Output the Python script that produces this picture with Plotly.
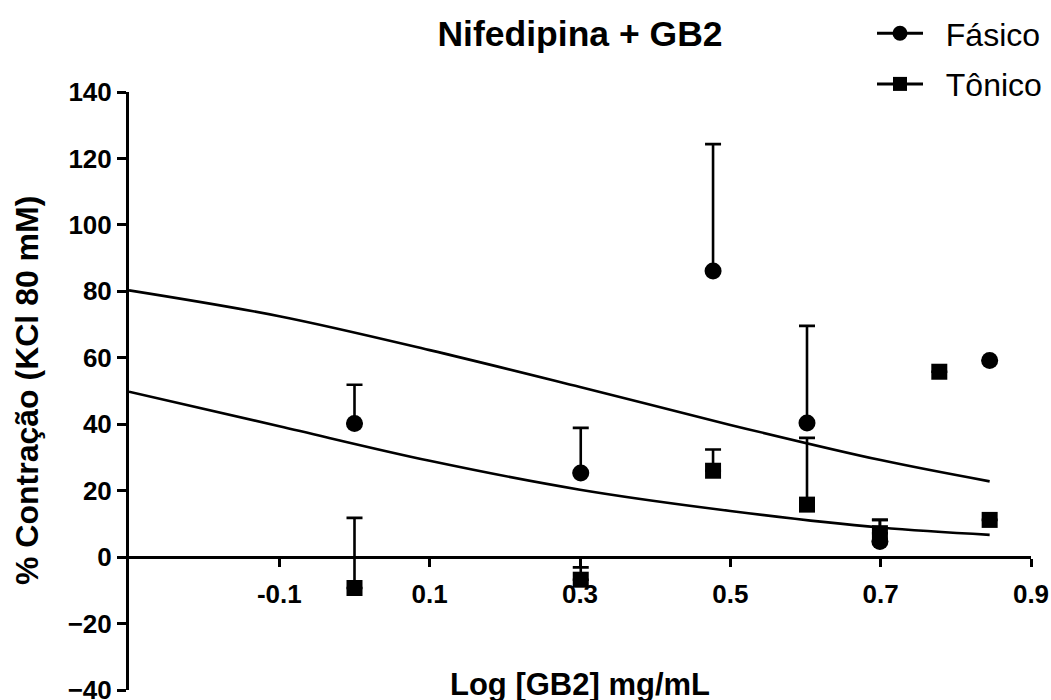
import plotly.graph_objects as go

# ---- data ----
log_conc = [0.0, 0.301, 0.477, 0.602, 0.699, 0.778, 0.845]
fasico_mean = [40.2, 25.3, 86.1, 40.4, 4.7, None, 59.2]
fasico_err = [11.7, 13.6, 38.2, 29.2, 6.5, None, None]
tonico_mean = [-9.3, -6.8, 26.0, 15.8, 7.2, 55.8, 11.2]
tonico_err = [21.1, 3.7, 6.4, 20.1, 4.0, None, None]

fit_x = [-0.3, -0.1, 0.1, 0.3, 0.5, 0.7, 0.845]
fit_fasico = [80.3, 72.5, 62.3, 51.2, 39.8, 29.2, 22.8]
fit_tonico = [49.8, 39.4, 29.0, 20.3, 13.9, 8.9, 6.7]

x_ticks = [-0.1, 0.1, 0.3, 0.5, 0.7, 0.9]
y_ticks = [-40, -20, 0, 20, 40, 60, 80, 100, 120, 140]

FONT = "Arial, Liberation Sans, sans-serif"
BLACK = "#000000"

fig = go.Figure()

# fitted curves
for fy in (fit_fasico, fit_tonico):
    fig.add_trace(go.Scatter(x=fit_x, y=fy, mode="lines",
                             line=dict(color=BLACK, width=2.6, shape="spline", smoothing=1.0),
                             showlegend=False, hoverinfo="skip"))

# data points with upward error bars
fig.add_trace(go.Scatter(
    x=log_conc, y=fasico_mean, mode="markers", showlegend=False,
    marker=dict(symbol="circle", size=17, color=BLACK),
    error_y=dict(type="data", array=fasico_err, symmetric=False,
                 arrayminus=[0] * len(fasico_err), color=BLACK, thickness=2.6, width=8)))
fig.add_trace(go.Scatter(
    x=log_conc, y=tonico_mean, mode="markers", showlegend=False,
    marker=dict(symbol="square", size=16, color=BLACK),
    error_y=dict(type="data", array=tonico_err, symmetric=False,
                 arrayminus=[0] * len(tonico_err), color=BLACK, thickness=2.6, width=8)))

# legend entries
fig.add_trace(go.Scatter(x=[None], y=[None], mode="lines+markers", name="\u00a0\u00a0Fásico",
                         line=dict(color=BLACK, width=3), legendgroup="a",
                         marker=dict(symbol="circle", size=15, color=BLACK)))
fig.add_trace(go.Scatter(x=[None], y=[None], mode="lines+markers", name="\u00a0\u00a0Tônico",
                         line=dict(color=BLACK, width=3), legendgroup="b",
                         marker=dict(symbol="square", size=14, color=BLACK)))

fig.update_layout(
    width=1051, height=700,
    margin=dict(l=129, r=20, t=92, b=10, autoexpand=False),
    paper_bgcolor="white", plot_bgcolor="white",
    font=dict(family=FONT, color=BLACK),
    showlegend=True,
    legend=dict(x=872 / 1051, y=1 - 6 / 700, xref="container", yref="container",
                xanchor="left", yanchor="top",
                font=dict(size=32, family=FONT, color=BLACK),
                bgcolor="rgba(0,0,0,0)", tracegroupgap=6, itemwidth=46),
    xaxis=dict(range=[-0.3, 0.9], anchor="free", position=40 / 180,
               tickvals=x_ticks, ticktext=[str(v) for v in x_ticks],
               ticks="outside", ticklen=8, tickwidth=2.6, tickcolor=BLACK,
               showline=True, linecolor=BLACK, linewidth=3,
               showgrid=False, zeroline=False, ticklabelstandoff=5,
               ticklabeloverflow="allow",
               tickfont=dict(size=26, family=FONT, color=BLACK, weight="bold")),
    yaxis=dict(range=[-40, 140], tickvals=y_ticks,
               ticks="outside", ticklen=9, tickwidth=2.6, tickcolor=BLACK,
               showline=True, linecolor=BLACK, linewidth=3,
               showgrid=False, zeroline=False, ticklabeloverflow="allow",
               tickfont=dict(size=26, family=FONT, color=BLACK, weight="bold")),
    title=dict(text="Nifedipina + GB2", x=580 / 1051, xanchor="center",
               y=1 - 34 / 700, yanchor="middle", yref="container", xref="container",
               font=dict(size=35.5, family=FONT, color=BLACK, weight="bold")),
    annotations=[
        dict(text="% Contração (KCl 80 mM)", textangle=-90, showarrow=False,
             xref="paper", yref="paper", x=0, y=0.5, xshift=-102,
             xanchor="center", yanchor="middle",
             font=dict(size=32, family=FONT, color=BLACK, weight="bold")),
        dict(text="Log [GB2] mg/mL", showarrow=False,
             xref="paper", yref="paper", x=0.5, y=0, yshift=6,
             xanchor="center", yanchor="middle",
             font=dict(size=31, family=FONT, color=BLACK, weight="bold")),
    ],
)

fig.write_html("out.html")
